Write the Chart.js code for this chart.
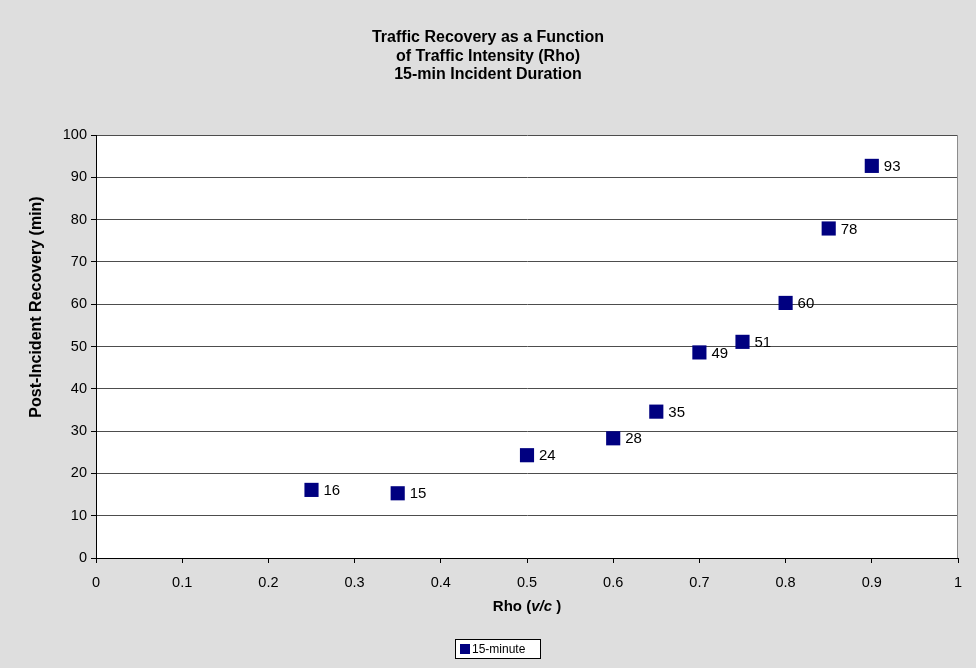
<!DOCTYPE html>
<html>
<head>
<meta charset="utf-8">
<script src="https://cdn.jsdelivr.net/npm/chart.js@4"></script>
<style>
  html, body { margin: 0; padding: 0; background: #dedede; }
  #wrap { width: 976px; height: 668px; }
</style>
</head>
<body>
<div id="wrap"><canvas id="recoveryChart" width="976" height="668"></canvas></div>
<script>
// データ
const rhoValues = [0.25, 0.35, 0.5, 0.6, 0.65, 0.7, 0.75, 0.8, 0.85, 0.9];
const recoveryMinutes = [16.1, 15.3, 24.3, 28.3, 34.6, 48.6, 51.1, 60.3, 77.9, 92.7];
const seriesName = '15-minute';
const titleLines = ['Traffic Recovery as a Function', 'of Traffic Intensity (Rho)', '15-min Incident Duration'];
const yAxisTitle = 'Post-Incident Recovery (min)';

const FONT = '"Liberation Sans", Arial, sans-serif';
const points = rhoValues.map((x, i) => ({ x: x, y: recoveryMinutes[i] }));

// プロットエリア背景・枠・タイトル・ラベル・凡例を描くプラグイン
const excelStyle = {
    id: 'excelStyle',
    beforeDraw(chart) {
        const { ctx, chartArea: a } = chart;
        ctx.save();
        ctx.fillStyle = '#ffffff';
        ctx.fillRect(a.left, a.top, a.right - a.left, a.bottom - a.top);
        ctx.restore();
    },
    afterDatasetsDraw(chart) {
        const { ctx, chartArea: a } = chart;
        ctx.save();
        // 右側の枠線
        ctx.strokeStyle = '#8c8c8c';
        ctx.lineWidth = 1;
        ctx.beginPath();
        ctx.moveTo(a.right - 0.5, a.top);
        ctx.lineTo(a.right - 0.5, a.bottom);
        ctx.stroke();

        // タイトル（3行）
        ctx.fillStyle = '#000';
        ctx.textAlign = 'center';
        ctx.textBaseline = 'middle';
        ctx.font = 'bold 16px ' + FONT;
        titleLines.forEach((line, i) => {
            ctx.fillText(line, 488, 38 + i * 18.5);
        });

        // Y軸タイトル
        ctx.save();
        ctx.translate(37, 307);
        ctx.rotate(-Math.PI / 2);
        ctx.font = 'bold 16px ' + FONT;
        ctx.fillText(yAxisTitle, 0, 0);
        ctx.restore();

        // データラベル
        ctx.font = '15px ' + FONT;
        ctx.textAlign = 'left';
        const meta = chart.getDatasetMeta(0);
        meta.data.forEach((pt, i) => {
            ctx.fillText(String(Math.round(recoveryMinutes[i])), pt.x + 12, pt.y + 1);
        });

        // X軸タイトル  Rho (v/c )
        const cx = (a.left + a.right) / 2;
        const ty = 607;
        const parts = [
            { t: 'Rho (', f: 'bold 15px ' + FONT },
            { t: 'v/c', f: 'italic bold 15px ' + FONT },
            { t: ' )', f: 'bold 15px ' + FONT }
        ];
        let total = 0;
        parts.forEach(p => { ctx.font = p.f; total += ctx.measureText(p.t).width; });
        let x = cx - total / 2;
        parts.forEach(p => {
            ctx.font = p.f;
            ctx.fillText(p.t, x, ty);
            x += ctx.measureText(p.t).width;
        });

        // 凡例
        const lx = 455, ly = 639, lw = 86, lh = 20;
        ctx.fillStyle = '#ffffff';
        ctx.fillRect(lx, ly, lw, lh);
        ctx.strokeStyle = '#000';
        ctx.strokeRect(lx + 0.5, ly + 0.5, lw - 1, lh - 1);
        ctx.fillStyle = '#000080';
        ctx.fillRect(lx + 5, ly + 5, 10, 10);
        ctx.fillStyle = '#000';
        ctx.font = '12px ' + FONT;
        ctx.fillText(seriesName, lx + 17, ly + lh / 2 + 0.5);
        ctx.restore();
    }
};

const ctx = document.getElementById('recoveryChart').getContext('2d');
new Chart(ctx, {
    type: 'scatter',
    data: {
        datasets: [{
            label: seriesName,
            data: points,
            pointStyle: 'rect',
            pointRadius: 10,
            pointHoverRadius: 10,
            backgroundColor: '#000080',
            borderColor: '#000080',
            borderWidth: 0
        }]
    },
    options: {
        responsive: false,
        animation: false,
        events: [],
        layout: { padding: { left: 0, right: 18, top: 135, bottom: 0 } },
        plugins: {
            legend: { display: false },
            tooltip: { enabled: false },
            title: { display: false }
        },
        scales: {
            x: {
                type: 'linear',
                min: 0,
                max: 1,
                afterFit(scale) { scale.height = 110; },
                ticks: {
                    stepSize: 0.1,
                    color: '#000',
                    padding: 11,
                    font: { family: FONT, size: 14.5 },
                    callback: v => String(Math.round(v * 10) / 10)
                },
                grid: { display: true, drawOnChartArea: false, drawTicks: true, tickLength: 5, color: '#000' },
                border: { display: true, color: '#000', width: 1 }
            },
            y: {
                min: 0,
                max: 100,
                afterFit(scale) { scale.width = 96; },
                ticks: {
                    stepSize: 10,
                    color: '#000',
                    padding: 4,
                    font: { family: FONT, size: 14.5 }
                },
                grid: { color: '#4d4d4d', tickLength: 5, tickColor: '#000' },
                border: { display: true, color: '#000', width: 1 }
            }
        }
    },
    plugins: [excelStyle]
});
</script>
</body>
</html>
